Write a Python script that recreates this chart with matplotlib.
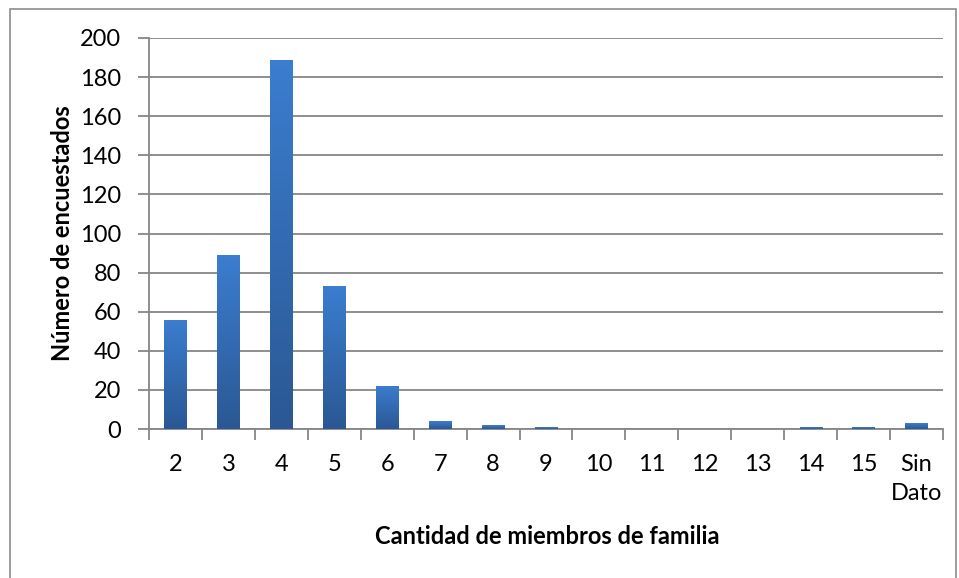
'''
    Miembros de familia - bar chart
'''
import numpy as np
import matplotlib.pyplot as plt
from matplotlib.patches import Rectangle

categories = ['2', '3', '4', '5', '6', '7', '8', '9', '10', '11', '12',
              '13', '14', '15', 'Sin\nDato']
counts = [56, 89, 189, 73, 22, 4, 2, 1, 0, 0, 0, 0, 1, 1, 3]
y_ticks = [0, 20, 40, 60, 80, 100, 120, 140, 160, 180, 200]

plt.rcParams['font.family'] = ['Lato', 'DejaVu Sans']
GRAY = '#868686'

fig = plt.figure(figsize=(9.59, 5.78), dpi=100)
fig.patches.append(Rectangle((10 / 959, -0.1), 946 / 959, 1.1 - 9 / 578,
                             transform=fig.transFigure, fill=False,
                             edgecolor='#8c8c8c', lw=1.2))
ax = fig.add_axes([149 / 959, 1 - 429 / 578, 794 / 959, 391 / 578])

x = np.arange(len(categories))
width = 0.42
bars = ax.bar(x, counts, width=width, color='#3467ad', zorder=3)

# gradient fill: lighter at the top, darker at the bottom
grad = np.linspace(0, 1, 100).reshape(-1, 1)
cmap = plt.matplotlib.colors.LinearSegmentedColormap.from_list(
    'g', ['#2b5894', '#3b7dcf'])
for b in bars:
    h = b.get_height()
    if h <= 0:
        continue
    bx = b.get_x()
    im = ax.imshow(grad, cmap=cmap, aspect='auto', origin='lower',
                   extent=(bx, bx + width, 0, h), zorder=4)
    im.set_clip_path(b)

ax.set_xlim(-0.5, len(categories) - 0.5)
ax.set_ylim(0, 200)
ax.set_yticks(y_ticks)
ax.set_yticklabels([str(v) for v in y_ticks])
ax.grid(axis='y', color=GRAY, lw=1.3, zorder=0)
ax.set_axisbelow(True)

ax.set_xticks(x)
ax.set_xticklabels(categories, va='top', linespacing=1.5)
ax.set_xticks(np.arange(-0.5, len(categories)), minor=True)
ax.tick_params(axis='x', which='major', length=0, pad=18, labelsize=17)
ax.tick_params(axis='x', which='minor', length=8, width=1.3, color=GRAY)
ax.tick_params(axis='y', length=8, width=1.3, color=GRAY, pad=12,
               labelsize=17)

for side in ['top', 'right']:
    ax.spines[side].set_visible(False)
for side in ['left', 'bottom']:
    ax.spines[side].set_color(GRAY)
    ax.spines[side].set_linewidth(1.3)

fig.text(547 / 959, 1 - 537 / 578, 'Cantidad de miembros de familia',
         ha='center', va='center', fontsize=17, fontweight='bold')
fig.text(62 / 959, 1 - 233 / 578, 'Número de encuestados', rotation=90,
         ha='center', va='center', fontsize=17, fontweight='bold')

fig.savefig('out.png', dpi=100)
